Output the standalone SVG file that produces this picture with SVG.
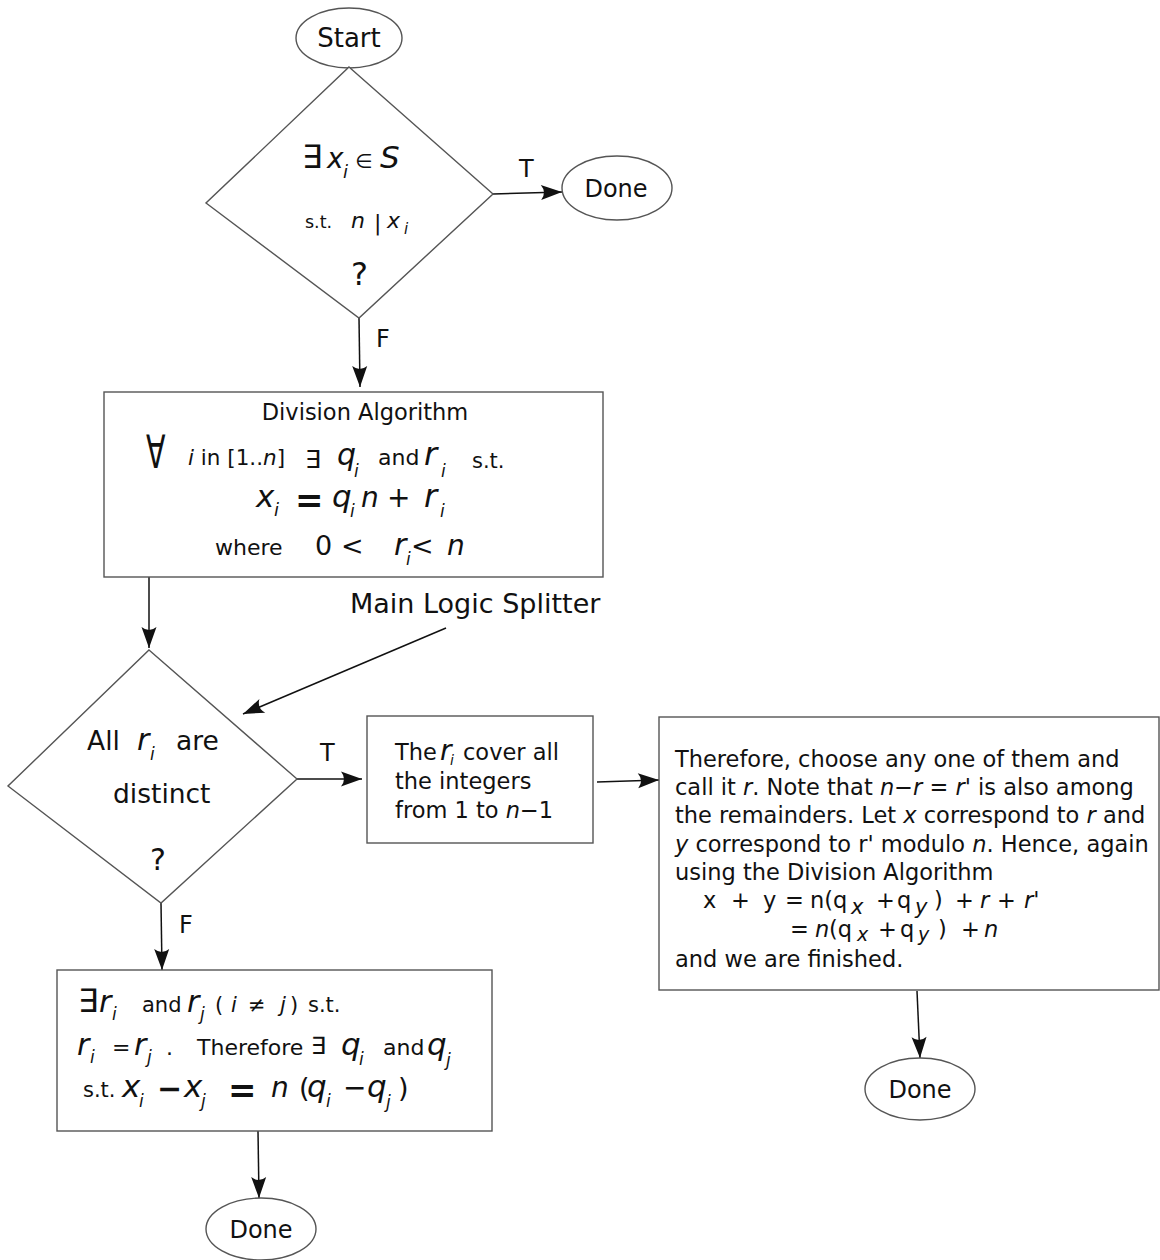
<svg xmlns="http://www.w3.org/2000/svg" width="1160" height="1260" viewBox="0 0 1160 1260">
<defs>
<style>
text{font-family:"DejaVu Sans","Liberation Sans",sans-serif;fill:#111}
.shape{fill:#fff;stroke:#555;stroke-width:1.4}
.conn{fill:none;stroke:#111;stroke-width:1.5}
.it{font-style:italic}
.b22{font-size:22.5px}
.lbl{font-size:24px}
</style>
<marker id="ah" markerUnits="userSpaceOnUse" markerWidth="24" markerHeight="16" viewBox="-22 -8 24 16" refX="0" refY="0" orient="auto">
<path d="M0,0 L-21,-7.5 Q-15,0 -21,7.5 Z" fill="#111"/>
</marker>
</defs>
<rect width="1160" height="1260" fill="#fff"/>

<g id="connectors">
<path class="conn" d="M493,194 L562,192" marker-end="url(#ah)"/>
<path class="conn" d="M359,318 L360,387" marker-end="url(#ah)"/>
<path class="conn" d="M149,577 L149,648" marker-end="url(#ah)"/>
<path class="conn" d="M446,628 L243,714" marker-end="url(#ah)"/>
<path class="conn" d="M297,779 L362,779" marker-end="url(#ah)"/>
<path class="conn" d="M597,782 L659,780" marker-end="url(#ah)"/>
<path class="conn" d="M917,991 L920,1058" marker-end="url(#ah)"/>
<path class="conn" d="M161,903 L162,970" marker-end="url(#ah)"/>
<path class="conn" d="M258,1131 L259,1198" marker-end="url(#ah)"/>
<text class="lbl" x="519" y="177">T</text>
<text class="lbl" x="376" y="347">F</text>
<text class="lbl" x="320" y="761">T</text>
<text class="lbl" x="179" y="933">F</text>
<text font-size="27px" x="350" y="613">Main Logic Splitter</text>
</g>

<g id="start">
<ellipse class="shape" cx="349" cy="38" rx="53" ry="30"/>
<text x="349" y="47" font-size="26px" text-anchor="middle">Start</text>
</g>

<g id="decision1">
<polygon class="shape" points="349,67 493,194 359,318 206,203"/>
<text x="302" y="168" font-size="32px">∃</text>
<text x="327" y="168" font-size="28px" class="it">x</text>
<text x="343" y="178" font-size="18px" class="it">i</text>
<text x="355" y="168" font-size="20px">∈</text>
<text x="380" y="168" font-size="31px" class="it">S</text>
<text x="305" y="228" font-size="17.5px">s.t.</text>
<text x="351" y="228" font-size="22px" class="it">n</text>
<text x="374" y="230" font-size="22px">|</text>
<text x="387" y="228" font-size="22px" class="it">x</text>
<text x="404" y="234" font-size="15px" class="it">i</text>
<text x="351" y="285" font-size="32px">?</text>
</g>

<g id="done1">
<ellipse class="shape" cx="617" cy="188" rx="55" ry="32"/>
<text x="616" y="197" font-size="24px" text-anchor="middle">Done</text>
</g>

<g id="division">
<rect class="shape" x="104" y="392" width="499" height="185"/>
<text x="365" y="420" class="b22" text-anchor="middle">Division Algorithm</text>
<text transform="translate(146,468) scale(0.62,1)" font-size="46px">∀</text>
<text x="188" y="465" font-size="21.5px"><tspan class="it">i</tspan> in [1..<tspan class="it">n</tspan>]</text>
<text x="305" y="468" font-size="25px">∃</text>
<text x="337" y="465" font-size="30px" class="it">q</text>
<text x="354" y="477" font-size="17px" class="it">i</text>
<text x="378" y="465" font-size="22px">and</text>
<text x="424" y="465" font-size="32px" class="it">r</text>
<text x="441" y="477" font-size="17px" class="it">i</text>
<text x="472" y="468" font-size="21px">s.t.</text>
<text x="256" y="507" font-size="31px" class="it">x</text>
<text x="274" y="516" font-size="18px" class="it">i</text>
<text x="295" y="512" font-size="34px" font-weight="bold">=</text>
<text x="332" y="507" font-size="31px" class="it">q</text>
<text x="350" y="517" font-size="17px" class="it">i</text>
<text x="361" y="507" font-size="28px" class="it">n</text>
<text x="387" y="507" font-size="28px">+</text>
<text x="424" y="507" font-size="32px" class="it">r</text>
<text x="440" y="517" font-size="17px" class="it">i</text>
<text x="215" y="555" font-size="22px">where</text>
<text x="315" y="555" font-size="27px">0</text>
<text x="341" y="555" font-size="27px">&lt;</text>
<text x="394" y="555" font-size="30px" class="it">r</text>
<text x="406" y="565" font-size="17px" class="it">i</text>
<text x="411" y="555" font-size="27px">&lt;</text>
<text x="447" y="555" font-size="28px" class="it">n</text>
</g>

<g id="decision2">
<polygon class="shape" points="149,650 297,779 161,903 8,786"/>
<text x="87" y="750" font-size="26.5px">All</text>
<text x="137" y="750" font-size="30px" class="it">r</text>
<text x="150" y="760" font-size="17px" class="it">i</text>
<text x="176" y="750" font-size="26.5px">are</text>
<text x="113" y="803" font-size="26.5px">distinct</text>
<text x="150" y="870" font-size="30px">?</text>
</g>

<g id="cover">
<rect class="shape" x="367" y="716" width="226" height="127"/>
<text x="395" y="760" class="b22">The</text>
<text x="440" y="760" font-size="28px" class="it">r</text>
<text x="450" y="765" font-size="14px" class="it">i</text>
<text x="463" y="760" class="b22">cover all</text>
<text x="395" y="789" class="b22">the integers</text>
<text x="395" y="818" class="b22">from 1 to <tspan class="it">n</tspan>−1</text>
</g>

<g id="therefore">
<rect class="shape" x="659" y="717" width="500" height="273"/>
<text x="675" y="767" class="b22">Therefore, choose any one of them and</text>
<text x="675" y="795" class="b22">call it <tspan class="it">r</tspan>. Note that <tspan class="it">n</tspan>−<tspan class="it">r</tspan> = <tspan class="it">r</tspan>'  is also among</text>
<text x="675" y="823" class="b22">the remainders. Let <tspan class="it">x</tspan> correspond to <tspan class="it">r</tspan> and</text>
<text x="675" y="852" class="b22"><tspan class="it">y</tspan> correspond to r' modulo <tspan class="it">n</tspan>. Hence, again</text>
<text x="675" y="880" class="b22">using the Division Algorithm</text>
<text y="908" class="b22"><tspan x="703">x</tspan><tspan x="731">+</tspan><tspan x="763">y</tspan><tspan x="785">=</tspan><tspan x="810">n(q</tspan></text>
<text x="851" y="914" font-size="21px" class="it">x</text>
<text y="908" class="b22"><tspan x="876">+</tspan><tspan x="897">q</tspan></text>
<text x="915" y="914" font-size="21px" class="it">y</text>
<text y="908" class="b22"><tspan x="934">)</tspan><tspan x="955">+</tspan><tspan x="980" class="it">r</tspan><tspan x="997">+</tspan><tspan x="1024" class="it">r</tspan><tspan>'</tspan></text>
<text y="937" class="b22"><tspan x="790">=</tspan><tspan x="815" class="it">n</tspan><tspan x="829">(q</tspan></text>
<text x="857" y="941" font-size="19px" class="it">x</text>
<text y="937" class="b22"><tspan x="878">+</tspan><tspan x="900">q</tspan></text>
<text x="918" y="941" font-size="19px" class="it">y</text>
<text y="937" class="b22"><tspan x="938">)</tspan><tspan x="961">+</tspan><tspan x="984" class="it">n</tspan></text>
<text x="675" y="967" class="b22">and we are finished.</text>
</g>

<g id="done2">
<ellipse class="shape" cx="920" cy="1089" rx="55" ry="31"/>
<text x="920" y="1098" font-size="24px" text-anchor="middle">Done</text>
</g>

<g id="equal-remainders">
<rect class="shape" x="57" y="970" width="435" height="161"/>
<text x="78" y="1012" font-size="32px">∃</text>
<text x="99" y="1012" font-size="30px" class="it">r</text>
<text x="112" y="1020" font-size="17px" class="it">i</text>
<text x="142" y="1012" font-size="21px">and</text>
<text x="187" y="1012" font-size="30px" class="it">r</text>
<text x="200" y="1020" font-size="17px" class="it">j</text>
<text x="215" y="1012" font-size="21px">(</text>
<text x="231" y="1012" font-size="21px" class="it">i</text>
<text x="248" y="1012" font-size="21px">≠</text>
<text x="280" y="1012" font-size="21px" class="it">j</text>
<text x="290" y="1012" font-size="21px">)</text>
<text x="308" y="1012" font-size="21px">s.t.</text>
<text x="77" y="1055" font-size="30px" class="it">r</text>
<text x="90" y="1063" font-size="17px" class="it">i</text>
<text x="112" y="1055" font-size="22px">=</text>
<text x="134" y="1055" font-size="30px" class="it">r</text>
<text x="147" y="1063" font-size="17px" class="it">j</text>
<text x="166" y="1055" font-size="22px">.</text>
<text x="197" y="1055" font-size="22px">Therefore</text>
<text x="311" y="1054" font-size="24px">∃</text>
<text x="341" y="1055" font-size="31px" class="it">q</text>
<text x="359" y="1065" font-size="17px" class="it">i</text>
<text x="383" y="1055" font-size="22px">and</text>
<text x="427" y="1055" font-size="31px" class="it">q</text>
<text x="446" y="1066" font-size="17px" class="it">j</text>
<text x="83" y="1097" font-size="21px">s.t.</text>
<text x="122" y="1097" font-size="31px" class="it">x</text>
<text x="139" y="1107" font-size="17px" class="it">i</text>
<text x="157" y="1099" font-size="30px" font-weight="bold">−</text>
<text x="184" y="1097" font-size="31px" class="it">x</text>
<text x="201" y="1107" font-size="17px" class="it">j</text>
<text x="228" y="1102" font-size="34px" font-weight="bold">=</text>
<text x="271" y="1097" font-size="28px" class="it">n</text>
<text x="299" y="1097" font-size="27px">(</text>
<text x="307" y="1097" font-size="31px" class="it">q</text>
<text x="326" y="1107" font-size="17px" class="it">i</text>
<text x="343" y="1097" font-size="28px">−</text>
<text x="367" y="1097" font-size="31px" class="it">q</text>
<text x="386" y="1108" font-size="17px" class="it">j</text>
<text x="398" y="1097" font-size="27px">)</text>
</g>

<g id="done3">
<ellipse class="shape" cx="261" cy="1229" rx="55" ry="31"/>
<text x="261" y="1238" font-size="24px" text-anchor="middle">Done</text>
</g>
</svg>
